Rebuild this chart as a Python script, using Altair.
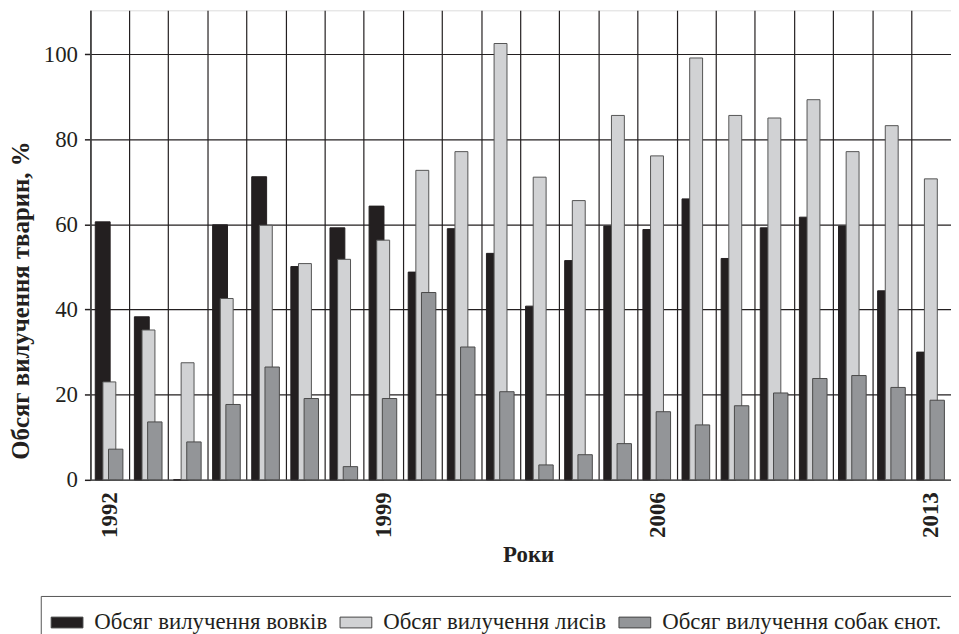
import altair as alt
import pandas as pd

years = [str(y) for y in range(1992, 2014)]
wolves = [60.6, 38.3, 0, 59.9, 71.2, 50.1, 59.2, 64.3, 48.8, 59.0, 53.2,
          40.8, 51.5, 59.6, 58.8, 66.0, 52.0, 59.2, 61.7, 59.6, 44.4, 30.0]
foxes = [23.0, 35.2, 27.5, 42.6, 59.8, 50.8, 51.8, 56.3, 72.7, 77.1, 102.5,
         71.1, 65.6, 85.6, 76.1, 99.1, 85.6, 85.0, 89.3, 77.1, 83.2, 70.7]
raccoon = [7.2, 13.6, 8.9, 17.7, 26.5, 19.1, 3.1, 19.1, 44.0, 31.2, 20.7,
           3.5, 5.9, 8.5, 16.0, 12.9, 17.4, 20.4, 23.8, 24.5, 21.7, 18.7]
series_names = ["Обсяг вилучення вовків", "Обсяг вилучення лисів",
                "Обсяг вилучення собак єнот."]
colors = ["#231f20", "#d1d2d4", "#939598"]
labeled_years = ["1992", "1999", "2006", "2013"]
y_ticks = [0, 20, 40, 60, 80, 100]

rows = []
for name, vals in zip(series_names, [wolves, foxes, raccoon]):
    for yr, v in zip(years, vals):
        rows.append({"year": yr, "series": name, "value": v})
df = pd.DataFrame(rows)

FONT = "'Liberation Serif', 'DejaVu Serif', serif"
label_expr = "indexof(" + str(labeled_years) + ", datum.label) >= 0 ? datum.label : ''"

x_enc = alt.X(
    "year:O",
    sort=years,
    scale=alt.Scale(paddingInner=0, paddingOuter=0),
    axis=alt.Axis(
        title="Роки", labelExpr=label_expr, labelAngle=270,
        labelFont=FONT, labelFontSize=23, labelFontWeight="bold",
        labelColor="#231f20", labelPadding=12,
        titleFont=FONT, titleFontSize=23, titleFontWeight="bold",
        titleColor="#231f20", titlePadding=6, titleX=441,
        ticks=False, grid=True, gridColor="#231f20", gridWidth=1.2,
        bandPosition=0, domainColor="#555555", domainWidth=1.5,
    ),
)
y_enc = alt.Y(
    "value:Q",
    scale=alt.Scale(domain=[0, 110.3], nice=False, zero=True),
    axis=alt.Axis(
        title="Обсяг вилучення тварин, %", values=y_ticks,
        labelFont=FONT, labelFontSize=23, labelColor="#231f20",
        labelPadding=7, tickSize=6, tickColor="#231f20", tickWidth=1.5,
        grid=True, gridColor="#231f20", gridWidth=1.2,
        domainColor="#444444", domainWidth=1.5,
        titleFont=FONT, titleFontSize=25, titleFontWeight="bold",
        titleColor="#231f20", titleAngle=270, titleBaseline="middle",
        titleX=-70, titleY=292,
    ),
)
color_enc = alt.Color(
    "series:N",
    sort=series_names,
    scale=alt.Scale(domain=series_names, range=colors),
    legend=alt.Legend(
        title=None, orient="none", legendX=-50, legendY=590,
        direction="horizontal", strokeColor="#555555", padding=10,
        symbolType="M-1,-0.34H1V0.34H-1Z", symbolSize=1024,
        symbolStrokeColor="#444444", symbolStrokeWidth=1,
        symbolOpacity=1,
        labelFont=FONT, labelFontSize=23, labelColor="#231f20",
        labelLimit=600, labelOffset=11, columnPadding=10,
    ),
)

base = alt.Chart(df).encode(x=x_enc, y=y_enc, color=color_enc)

specs = [
    (series_names[0], 15, -7.3, "#231f20"),
    (series_names[1], 13, -0.6, "#555555"),
    (series_names[2], 14.5, 5.8, "#4a4a4a"),
]
layers = []
for name, w, off, st in specs:
    layers.append(
        base.transform_filter(alt.datum.series == name).mark_bar(
            width=w, xOffset=off, stroke=st, strokeWidth=1, opacity=1
        )
    )

chart = alt.layer(*layers).properties(
    width=867, height=473,
    autosize=alt.AutoSizeParams(type="none"),
    padding={"left": 83, "top": 0, "right": 0, "bottom": 153},
).configure_view(
    stroke="#555555", strokeWidth=1.5
).configure(font=FONT)

chart.save("out.html", embed_options={"renderer": "svg", "actions": False})
